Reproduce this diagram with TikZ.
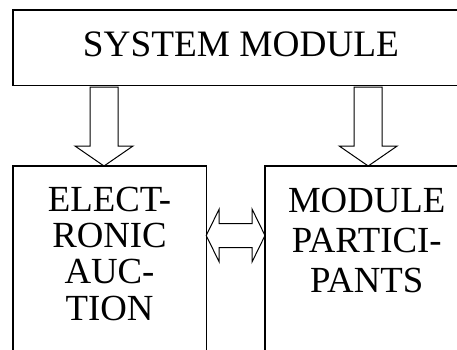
\documentclass[tikz,border=0pt]{standalone}
\usepackage{fontspec}
\setmainfont{Liberation Serif}
\usetikzlibrary{calc}

\tikzset{
	box/.style={inner sep=0pt},
	side/.style={line width=1.4pt},
	lbl/.style={anchor=north, align=center, inner sep=0pt},
	% hollow block arrow pointing down
	blockdown/.style={line width=1pt, line join=miter, to path={let \p1=(\tikztostart), \p2=(\tikztotarget) in
		(\x1+#1-14pt,\y1-2pt) -- (\x1+#1-14pt,\y2+20pt) -- (\x1+#1-29pt,\y2+20pt) -- (\x1+#1,\y2)
		-- (\x1+#1+29pt,\y2+20pt) -- (\x1+#1+14pt,\y2+20pt) -- (\x1+#1+14pt,\y1-2pt) -- cycle}},
	blockdown/.default=0pt,
	% hollow block arrow with two heads
	blockboth/.style={line width=1pt, line join=miter, to path={let \p1=(\tikztostart), \p2=(\tikztotarget) in
		(\x1,\y1) -- (\x1+13pt,\y1+26.5pt) -- (\x1+13pt,\y1+12pt) -- (\x2-13pt,\y1+12pt) -- (\x2-13pt,\y1+26.5pt)
		-- (\x2,\y1) -- (\x2-13pt,\y1-26.5pt) -- (\x2-13pt,\y1-12pt) -- (\x1+13pt,\y1-12pt) -- (\x1+13pt,\y1-26.5pt) -- cycle}}
}

\begin{document}
\begin{tikzpicture}[x=1pt, y=-1pt]
	\useasboundingbox (0,0) rectangle (457,349);

	\node[box, minimum width=456pt, minimum height=75pt, text depth=6pt,
		font=\fontsize{37.3pt}{40pt}\selectfont] (sys) at (241,47.5) {SYSTEM MODULE};

	\node[box, anchor=north, minimum width=193pt, minimum height=250pt,
		label={[lbl, yshift=-21pt, font=\fontsize{36.8pt}{36.2pt}\selectfont]north:{ELECT-\\RONIC\\AUC-\\TION}}]
		(auction) at (109.5,166) {};
	\node[box, anchor=north west, minimum width=203pt, minimum height=250pt,
		label={[lbl, yshift=-21.5pt, font=\fontsize{36.8pt}{40.3pt}\selectfont]north:{MODULE\\PARTICI-\\PANTS}}]
		(participants) at (265,166) {};

	% frames, cut off by the page edge
	\draw[side] (sys.north east) -- (sys.north west) -- (sys.south west) -- (sys.south east);
	\draw[side] (auction.south west) -- (auction.north west) -- (auction.north east) -- (auction.south east);
	\draw[side] (participants.south west) -- (participants.north west) -- (participants.north east);

	\coordinate (mid) at (0,235.5);

	\draw[blockdown=-5.5pt] (auction.north |- sys.south) to (auction.north);
	\draw[blockdown=1.5pt] (participants.north |- sys.south) to (participants.north);
	\draw[blockboth] (auction.east |- mid) to (participants.west |- mid);
\end{tikzpicture}
\end{document}
